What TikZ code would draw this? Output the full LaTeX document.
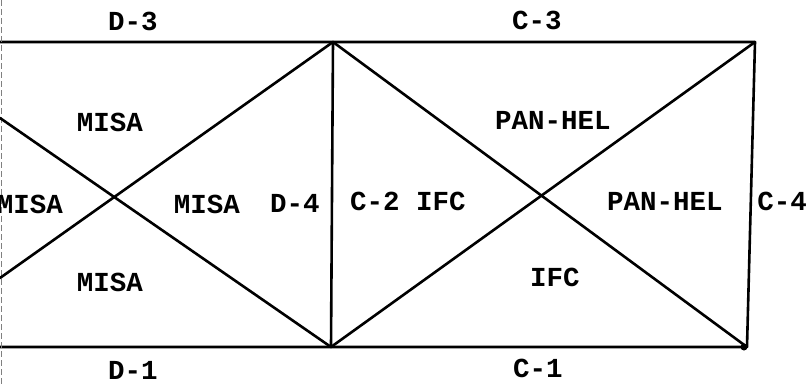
\documentclass[tikz,border=0pt]{standalone}
\usepackage{fontspec}
\setmonofont{Liberation Mono}
\begin{document}
\begin{tikzpicture}[x=1pt,y=-1pt,
  edge/.style={line width=2.6pt, line cap=round, line join=round},
  lbl/.style={font=\ttfamily\bfseries\fontsize{27.5}{27.5}\selectfont, inner sep=0pt, anchor=center}]
\useasboundingbox (0,0) rectangle (807,386);
\clip (0,0) rectangle (807,386);
% vertices
\coordinate (TL) at (0,42);
\coordinate (TM) at (333,42);
\coordinate (TR) at (755,42);
\coordinate (BL) at (0,347);
\coordinate (BM) at (331,347);
\coordinate (BR) at (747,347);
\coordinate (L1) at (0,118);
\coordinate (L2) at (0,278);
% frame
\draw[edge] (TL) -- (TM) -- (TR) -- (BR) -- (BM) -- (BL);
\draw[edge] (TM) -- (BM);
\draw[gray, line width=0.6pt, dash pattern=on 6pt off 3pt] (1,0) -- (1,386);
% diagonals
\draw[edge] (L1) -- (BM);
\draw[edge] (L2) -- (TM);
\draw[edge] (TM) -- (BR);
\draw[edge] (BM) -- (TR);
\fill (BR) ++(-3,0) circle (3.5pt);
% labels
\node[lbl] (d3) at (133,21) {D-3};
\node[lbl] (c3) at (537,20) {C-3};
\node[lbl] (m1) at (110,122) {MISA};
\node[lbl] (m2) at (30,204) {MISA};
\node[lbl] (m3) at (207,204) {MISA};
\node[lbl] (d4) at (295,203) {D-4};
\node[lbl] (c2) at (408,201) {C-2 IFC};
\node[lbl] (p1) at (553,120) {PAN-HEL};
\node[lbl] (p2) at (665,201) {PAN-HEL};
\node[lbl] (c4) at (782,201) {C-4};
\node[lbl] (m4) at (110,282) {MISA};
\node[lbl] (ifc) at (555,277) {IFC};
\node[lbl] (d1) at (133,370) {D-1};
\node[lbl] (c1) at (538,368) {C-1};
\end{tikzpicture}
\end{document}
